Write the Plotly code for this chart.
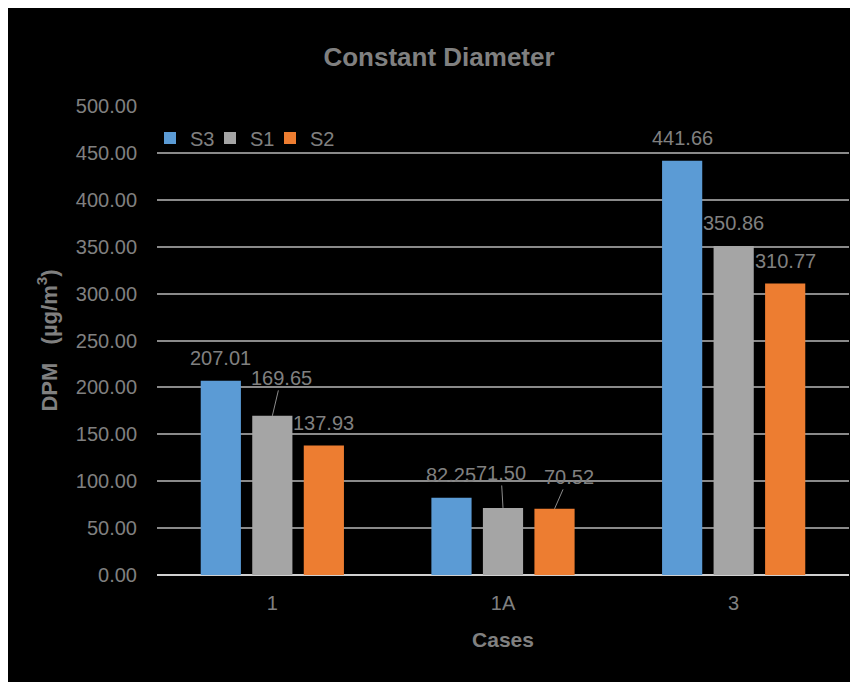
import plotly.graph_objects as go

# ---- data ----
cases = ["1", "1A", "3"]
series_names = ["S3", "S1", "S2"]
s3_values = [207.01, 82.25, 441.66]
s1_values = [169.65, 71.50, 350.86]
s2_values = [137.93, 70.52, 310.77]
y_ticks = [0, 50, 100, 150, 200, 250, 300, 350, 400, 450, 500]

series_values = [s3_values, s1_values, s2_values]
colors = ["#5B9BD5", "#A5A5A5", "#ED7D31"]

# labels drawn with leader lines: (series index, case index) -> (ax, ay) pixel offset
leader_offsets = {(1, 0): (9, -38), (1, 1): (-2, -35), (2, 1): (14, -32)}

FONT = "Liberation Sans, Arial, sans-serif"
TXT = "#808080"
BARGAP = 0.33
BARGROUPGAP = 0.22

# figure sits inside the page's 8px body margin
W, H = 850, 674
L, R, T, B = 149, 9, 98, 107
pw, ph = W - L - R, H - T - B


def px_x(X):
    return (X - L) / pw


def px_y(Y):
    return (H - B - Y) / ph


legend_ids = ["legend", "legend2", "legend3"]
legend_x = [142, 202, 262]

fig = go.Figure()
for name, vals, col, lg in zip(series_names, series_values, colors, legend_ids):
    fig.add_trace(go.Bar(x=cases, y=vals, name=name, legend=lg,
                         marker=dict(color=col, line=dict(width=0))))

# data labels
slot = (1 - BARGAP) / len(series_names)
for j, vals in enumerate(series_values):
    for i, v in enumerate(vals):
        xpos = i + (j - (len(series_names) - 1) / 2) * slot
        txt = f"{v:.2f}"
        if (j, i) in leader_offsets:
            ax, ay = leader_offsets[(j, i)]
            fig.add_annotation(x=xpos, y=v, xref="x", yref="y", text=txt, showarrow=True,
                               ax=ax, ay=ay, arrowhead=0, arrowwidth=1, arrowcolor="#8c8c8c",
                               standoff=0, font=dict(family=FONT, size=20, color=TXT))
        else:
            fig.add_annotation(x=xpos, y=v, xref="x", yref="y", text=txt, showarrow=False,
                               yshift=23, font=dict(family=FONT, size=20, color=TXT))

legend_style = dict(orientation="h", xanchor="left", y=px_y(130), yanchor="middle",
                    bgcolor="rgba(0,0,0,0)", font=dict(family=FONT, size=20, color=TXT),
                    itemwidth=30)

fig.update_layout(
    width=W, height=H,
    margin=dict(l=L, r=R, t=T, b=B, pad=0),
    paper_bgcolor="black", plot_bgcolor="black",
    barmode="group", bargap=BARGAP, bargroupgap=BARGROUPGAP,
    title=dict(text="<b>Constant Diameter</b>", x=431 / W, xanchor="center", xref="container",
               y=1 - 49 / H, yanchor="middle", yref="container",
               font=dict(family=FONT, size=26, color=TXT)),
    legend=dict(x=px_x(legend_x[0]), **legend_style),
    legend2=dict(x=px_x(legend_x[1]), **legend_style),
    legend3=dict(x=px_x(legend_x[2]), **legend_style),
    showlegend=True,
    font=dict(family=FONT, color=TXT),
)
fig.update_yaxes(range=[0, 500], tickvals=y_ticks, tickformat=".2f", showgrid=True,
                 gridcolor="#8a8a8a", gridwidth=2, zeroline=True, zerolinecolor="#d0d0d0",
                 zerolinewidth=2, showline=False, ticks="", ticklabelstandoff=19,
                 tickfont=dict(family=FONT, size=20, color=TXT),
                 title=dict(text="<b>DPM&nbsp;&nbsp;&nbsp;(µg/m<sup>3</sup>)</b>", standoff=12,
                            font=dict(family=FONT, size=22, color=TXT)))
fig.update_xaxes(showgrid=False, showline=False, ticks="", ticklabelstandoff=14,
                 tickfont=dict(family=FONT, size=20, color=TXT),
                 title=dict(text="<b>Cases</b>", standoff=19,
                            font=dict(family=FONT, size=21, color=TXT)))

fig.write_html("out.html")
